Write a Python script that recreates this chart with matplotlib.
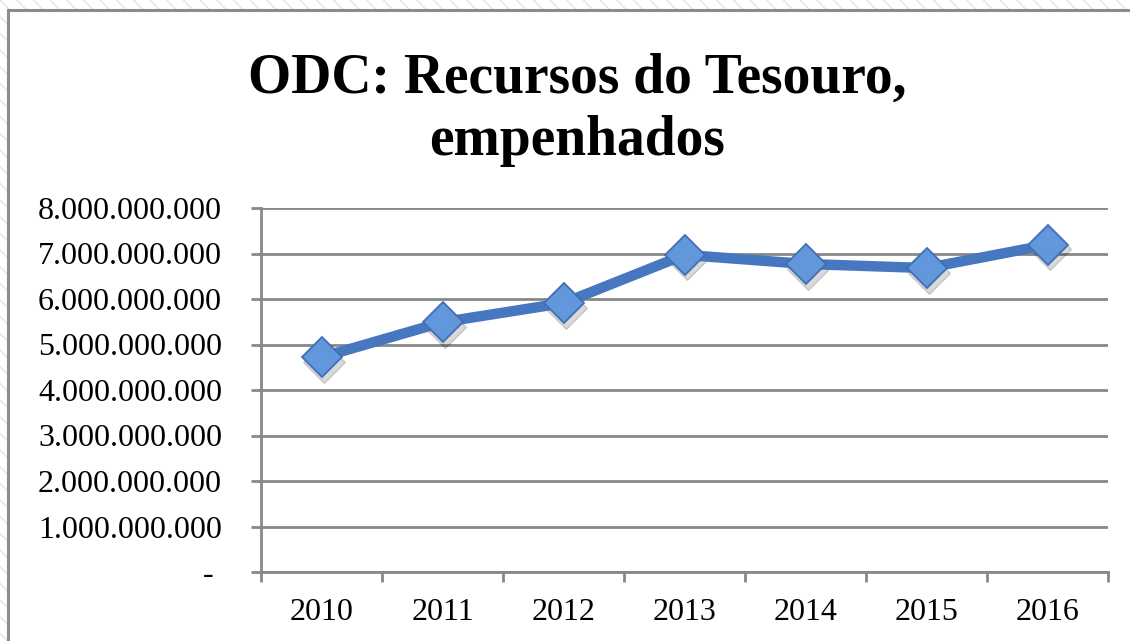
import matplotlib
matplotlib.use("Agg")
import matplotlib.pyplot as plt
from matplotlib.patches import Rectangle
from matplotlib.ticker import FuncFormatter, MultipleLocator, FixedLocator

# data
anos = ['2010', '2011', '2012', '2013', '2014', '2015', '2016']
empenhados = [4.72e9, 5.49e9, 5.91e9, 6.97e9, 6.77e9, 6.68e9, 7.19e9]

titulo_1 = 'ODC: Recursos do Tesouro,'
titulo_2 = 'empenhados'

plt.rcParams['font.family'] = ['Liberation Serif', 'DejaVu Serif']

fig = plt.figure(figsize=(11.3, 6.41), dpi=100)

# hatched selection band round the chart (Excel style)
fig.patches.append(Rectangle((0, 0), 1, 1, transform=fig.transFigure,
                             facecolor='white', edgecolor='#e4e4e4',
                             hatch='\\\\', linewidth=0, zorder=-10))
fig.patches.append(Rectangle((8 / 1130, -0.1), 1.2, (641 - 10) / 641 + 0.1,
                             transform=fig.transFigure, facecolor='white',
                             edgecolor='#8c8c8c', linewidth=2.2, zorder=-9))

ax = fig.add_axes([261 / 1130, 1 - 572 / 641, (1108 - 261) / 1130, (572 - 208) / 641])
ax.set_facecolor('none')

x = list(range(len(anos)))

# soft shadow under markers
ax.plot([v + 0.02 for v in x], [v - 0.1e9 for v in empenhados], linestyle='none',
        marker='D', markersize=21, color='#000000', alpha=0.15, zorder=2)
ax.plot(x, empenhados, color='#4677bf', linewidth=7.5, solid_capstyle='round',
        marker='D', markersize=20, markerfacecolor='#6397dc',
        markeredgecolor='#3f6fb4', markeredgewidth=1.3, zorder=3)

ax.set_xlim(-0.5, len(anos) - 0.5)
ax.set_ylim(0, 8e9)

ax.yaxis.set_major_locator(MultipleLocator(1e9))
ax.yaxis.set_major_formatter(FuncFormatter(
    lambda v, p: '- ' if v == 0 else f'{v:,.0f}'.replace(',', '.')))
ax.grid(axis='y', color='#888888', linewidth=2)
ax.set_axisbelow(True)

ax.set_xticks(x)
ax.set_xticklabels(anos)
ax.xaxis.set_minor_locator(FixedLocator([i - 0.5 for i in range(len(anos) + 1)]))
ax.tick_params(axis='x', which='major', length=0, pad=19, labelsize=23)
ax.tick_params(axis='x', which='minor', length=7, width=2, color='#888888', direction='out')
ax.tick_params(axis='y', length=7, width=2, color='#888888', pad=21, labelsize=23)

for lado in ['top', 'right']:
    ax.spines[lado].set_visible(False)
for lado in ['left', 'bottom']:
    ax.spines[lado].set_color('#888888')
    ax.spines[lado].set_linewidth(2)

fig.text(577 / 1130, 1 - 93 / 641, titulo_1, ha='center', va='baseline',
         fontsize=40, fontweight='bold')
fig.text(577 / 1130, 1 - 155 / 641, titulo_2, ha='center', va='baseline',
         fontsize=40, fontweight='bold')

fig.savefig('out.png', dpi=100)
